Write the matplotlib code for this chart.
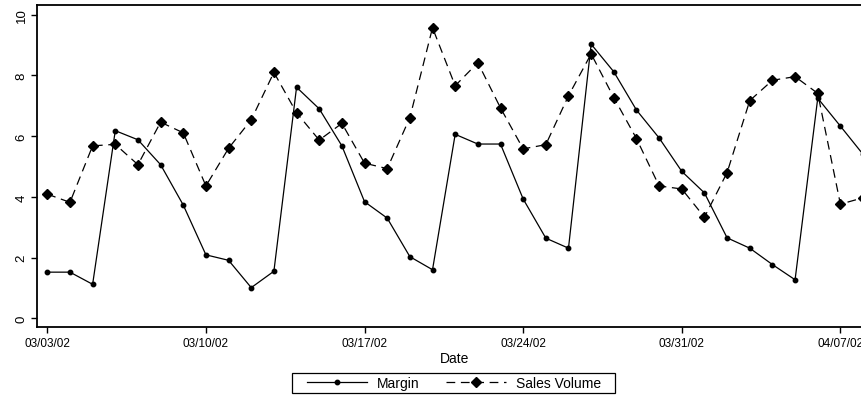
import matplotlib
matplotlib.use('Agg')
import matplotlib.pyplot as plt
import matplotlib.dates as mdates
from matplotlib.patches import Rectangle
import pandas as pd

plt.rcParams['font.family'] = ['Liberation Sans', 'DejaVu Sans']

# daily values from 03/03/02 to 04/08/02
dates = pd.date_range('2002-03-03', '2002-04-08', freq='D')
margin = [1.52, 1.52, 1.12, 6.18, 5.88, 5.06, 3.73,
          2.09, 1.91, 1.01, 1.55, 7.61, 6.90, 5.68,
          3.84, 3.30, 2.03, 1.60, 6.06, 5.74, 5.74,
          3.93, 2.64, 2.31, 9.03, 8.12, 6.86, 5.94,
          4.84, 4.13, 2.65, 2.31, 1.77, 1.27, 7.25,
          6.33, 5.40]
sales_volume = [4.09, 3.82, 5.68, 5.73, 5.06, 6.46, 6.11,
                4.36, 5.60, 6.54, 8.10, 6.77, 5.87, 6.42,
                5.11, 4.93, 6.61, 9.57, 7.66, 8.42, 6.93,
                5.58, 5.72, 7.33, 8.71, 7.27, 5.92, 4.36,
                4.26, 3.33, 4.80, 7.17, 7.84, 7.96, 7.41,
                3.76, 3.97]
tick_dates = pd.to_datetime(['2002-03-03', '2002-03-10', '2002-03-17',
                             '2002-03-24', '2002-03-31', '2002-04-07'])
y_ticks = [0, 2, 4, 6, 8, 10]

W, H = 862, 402
fig = plt.figure(figsize=(W / 100, H / 100), dpi=100)
# axes runs a bit past the right edge of the picture, like the original
left, right, top, bottom = 37.3, 872, 6, 328
ax = fig.add_axes([left / W, 1 - bottom / H, (right - left) / W, (bottom - top) / H])

ax.plot(dates, margin, color='black', lw=0.9, marker='o', ms=3.2,
        label='Margin')
ax.plot(dates, sales_volume, color='black', lw=0.9, marker='D', ms=5.5,
        dashes=(7, 4.5), label='Sales Volume')

start = mdates.date2num(dates[0])
day_px = 22.66
ax.set_xlim(start - (47.3 - left) / day_px, start + (right - 47.3) / day_px)
ax.set_ylim((319.3 - bottom) / 30.36, (319.3 - top) / 30.36)

ax.set_xticks(tick_dates)
ax.set_xticklabels([d.strftime('%m/%d/%y') for d in tick_dates], fontsize=8.5)
ax.set_yticks(y_ticks)
ax.set_yticklabels([str(v) for v in y_ticks], fontsize=9.5, rotation=90,
                   va='center')
ax.tick_params(direction='out', length=4, width=1, pad=3)
ax.set_xlabel('Date', fontsize=10, labelpad=2)

for s in ax.spines.values():
    s.set_linewidth(1.3)

# legend without its own frame, box drawn separately to get the flat shape
leg = fig.legend(loc='center', bbox_to_anchor=(454 / W, 1 - 384 / H), ncol=2,
                 fontsize=10, frameon=False, handlelength=4.3, numpoints=1,
                 borderpad=0.2, columnspacing=1.9, handletextpad=0.75)
box_l, box_r, box_t, box_b = 292, 615, 374, 394
fig.patches.append(Rectangle((box_l / W, 1 - box_b / H), (box_r - box_l) / W,
                             (box_b - box_t) / H, transform=fig.transFigure,
                             fill=False, edgecolor='black', lw=0.9))

fig.savefig('out.png', dpi=100)
